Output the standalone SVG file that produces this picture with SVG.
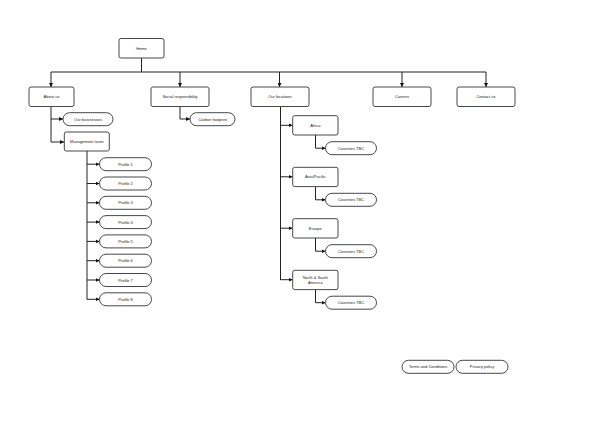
<svg xmlns="http://www.w3.org/2000/svg" width="602" height="426" viewBox="0 0 602 426">
<defs>
<marker id="ah" viewBox="0 0 10 10" refX="10" refY="5" markerWidth="4" markerHeight="4" markerUnits="userSpaceOnUse" orient="auto">
<path d="M0,0 L10,5 L0,10 z" fill="#111"/>
</marker>
</defs>
<style>
.box{fill:#fff;stroke:#333;stroke-width:0.9}
.pill{fill:#fff;stroke:#333;stroke-width:0.9}
.t{font-family:"Liberation Sans",Arial,sans-serif;font-size:4px;fill:#222;text-anchor:middle;dominant-baseline:central}
.c{fill:none;stroke:#222;stroke-width:1;marker-end:url(#ah)}
.l{fill:none;stroke:#222;stroke-width:1}
</style>
<rect width="602" height="426" fill="#fff"/>
<g id="connectors">
<path class="l" d="M141.5,58 V72 M51,72 H486"/>
<path class="c" d="M51,72 V87"/>
<path class="c" d="M180,72 V87"/>
<path class="c" d="M279.5,72 V87"/>
<path class="c" d="M402,72 V87"/>
<path class="c" d="M486,72 V87"/>
<path class="l" d="M51,106 V142"/>
<path class="c" d="M51,119 H63"/>
<path class="c" d="M51,142 H64"/>
<path class="c" d="M180,106 V119 H190"/>
<path class="l" d="M87,151 V299.5"/>
<path class="c" d="M87,164.2 H99.5"/>
<path class="c" d="M87,183.5 H99.5"/>
<path class="c" d="M87,202.8 H99.5"/>
<path class="c" d="M87,222.1 H99.5"/>
<path class="c" d="M87,241.4 H99.5"/>
<path class="c" d="M87,260.7 H99.5"/>
<path class="c" d="M87,280 H99.5"/>
<path class="c" d="M87,299.3 H99.5"/>
<path class="l" d="M280.5,106 V280"/>
<path class="c" d="M280.5,125.3 H292.5"/>
<path class="c" d="M280.5,176.8 H292.5"/>
<path class="c" d="M280.5,228.2 H292.5"/>
<path class="c" d="M280.5,279.7 H292.5"/>
<path class="c" d="M315.5,135 V148.2 H325.5"/>
<path class="c" d="M315.5,186.6 V199.8 H325.5"/>
<path class="c" d="M315.5,238 V251.2 H325.5"/>
<path class="c" d="M315.5,289.6 V302.7 H325.5"/>
</g>
<g id="home"><rect class="box" x="119" y="38.5" width="45" height="19.5" rx="2"/><text class="t" x="141.5" y="48.3">Home</text></g>
<g id="about"><rect class="box" x="29" y="87" width="45" height="19.5" rx="2"/><text class="t" x="51.5" y="96.8">About us</text></g>
<g id="social"><rect class="box" x="151" y="87" width="58" height="19.5" rx="2"/><text class="t" x="180" y="96.8">Social responsibility</text></g>
<g id="locations"><rect class="box" x="251" y="87" width="58" height="19.5" rx="2"/><text class="t" x="280" y="96.8">Our locations</text></g>
<g id="careers"><rect class="box" x="373" y="87" width="58" height="19.5" rx="2"/><text class="t" x="402" y="96.8">Careers</text></g>
<g id="contact"><rect class="box" x="457" y="87" width="58" height="19.5" rx="2"/><text class="t" x="486" y="96.8">Contact us</text></g>
<g id="businesses"><rect class="pill" x="63" y="112.7" width="50" height="13" rx="6.5"/><text class="t" x="88" y="119.2">Our businesses</text></g>
<g id="carbon"><rect class="pill" x="190" y="112.7" width="45" height="13" rx="6.5"/><text class="t" x="212.5" y="119.2">Carbon footprint</text></g>
<g id="mgmt"><rect class="box" x="64.3" y="132" width="45" height="19" rx="2"/><text class="t" x="86.8" y="141.7">Management team</text></g>
<g id="p1"><rect class="pill" x="99.5" y="157.7" width="52" height="13" rx="6.5"/><text class="t" x="125.5" y="164.2">Profile 1</text></g>
<g id="p2"><rect class="pill" x="99.5" y="177" width="52" height="13" rx="6.5"/><text class="t" x="125.5" y="183.5">Profile 2</text></g>
<g id="p3"><rect class="pill" x="99.5" y="196.3" width="52" height="13" rx="6.5"/><text class="t" x="125.5" y="202.8">Profile 3</text></g>
<g id="p4"><rect class="pill" x="99.5" y="215.6" width="52" height="13" rx="6.5"/><text class="t" x="125.5" y="222.1">Profile 4</text></g>
<g id="p5"><rect class="pill" x="99.5" y="234.9" width="52" height="13" rx="6.5"/><text class="t" x="125.5" y="241.4">Profile 5</text></g>
<g id="p6"><rect class="pill" x="99.5" y="254.2" width="52" height="13" rx="6.5"/><text class="t" x="125.5" y="260.7">Profile 6</text></g>
<g id="p7"><rect class="pill" x="99.5" y="273.5" width="52" height="13" rx="6.5"/><text class="t" x="125.5" y="280">Profile 7</text></g>
<g id="p8"><rect class="pill" x="99.5" y="292.8" width="52" height="13" rx="6.5"/><text class="t" x="125.5" y="299.3">Profile 8</text></g>
<g id="africa"><rect class="box" x="292.7" y="115.7" width="45.3" height="19.3" rx="2"/><text class="t" x="315.3" y="125.3">Africa</text></g>
<g id="asia"><rect class="box" x="292.7" y="167.3" width="45.3" height="19.3" rx="2"/><text class="t" x="315.3" y="176.8">Asia/Pacific</text></g>
<g id="europe"><rect class="box" x="292.7" y="218.7" width="45.3" height="19.3" rx="2"/><text class="t" x="315.3" y="228.2">Europe</text></g>
<g id="america"><rect class="box" x="292.7" y="270.3" width="45.3" height="19.3" rx="2"/><text class="t" x="315.3" y="277.5">North &amp; South</text><text class="t" x="315.3" y="282.3">America</text></g>
<g id="c1"><rect class="pill" x="325.5" y="141.7" width="51" height="13" rx="6.5"/><text class="t" x="351" y="148.2">Countries TBC</text></g>
<g id="c2"><rect class="pill" x="325.5" y="193.3" width="51" height="13" rx="6.5"/><text class="t" x="351" y="199.8">Countries TBC</text></g>
<g id="c3"><rect class="pill" x="325.5" y="244.7" width="51" height="13" rx="6.5"/><text class="t" x="351" y="251.2">Countries TBC</text></g>
<g id="c4"><rect class="pill" x="325.5" y="296.2" width="51" height="13" rx="6.5"/><text class="t" x="351" y="302.7">Countries TBC</text></g>
<g id="terms"><rect class="pill" x="402" y="360.3" width="52" height="13" rx="6.5"/><text class="t" x="428" y="366.8">Terms and Conditions</text></g>
<g id="privacy"><rect class="pill" x="456" y="360.3" width="52" height="13" rx="6.5"/><text class="t" x="482" y="366.8">Privacy policy</text></g>
</svg>
